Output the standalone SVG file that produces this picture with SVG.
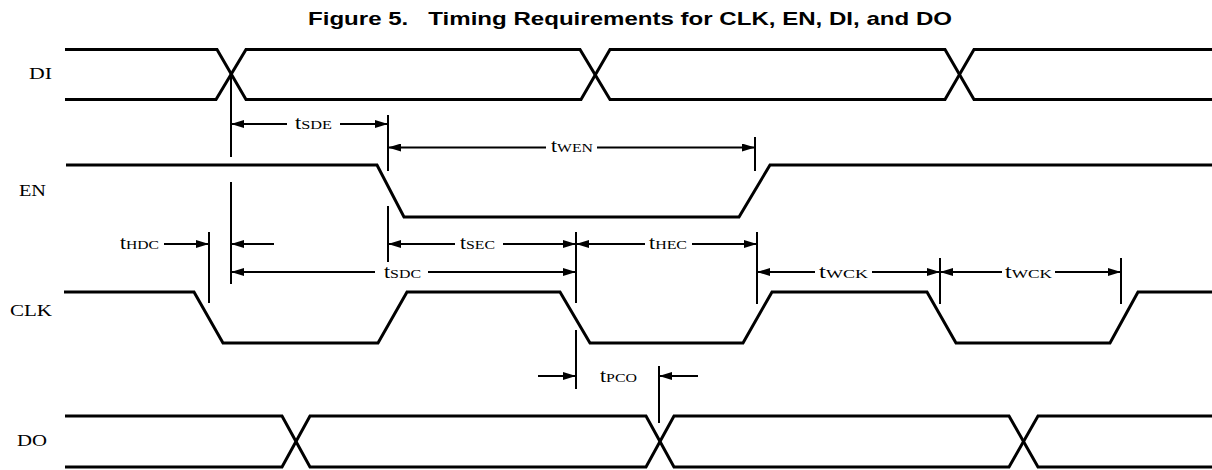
<svg xmlns="http://www.w3.org/2000/svg" width="1212" height="470" viewBox="0 0 1212 470">
<style>
.sig{fill:none;stroke:#000;stroke-width:3;stroke-linejoin:miter}
.dim{fill:none;stroke:#000;stroke-width:1.8}
.ref{fill:none;stroke:#000;stroke-width:2}
.lbl{font-family:"Liberation Serif","Times New Roman",serif;font-size:17.5px;fill:#000}
.t{font-family:"Liberation Serif","Times New Roman",serif;font-size:18px;fill:#000}
.sub{font-size:13px}
.title{font-family:"Liberation Sans",Arial,sans-serif;font-weight:bold;font-size:18.5px;fill:#000}
</style>
<defs>
<marker id="arr" viewBox="0 0 13 8" refX="13" refY="4" markerWidth="13" markerHeight="8" markerUnits="userSpaceOnUse" orient="auto">
<path d="M0,0 L13,4 L0,8 z" fill="#000"/>
</marker>
</defs>
<rect width="1212" height="470" fill="#fff"/>
<text class="title" x="308" y="25" textLength="644" lengthAdjust="spacingAndGlyphs" xml:space="preserve">Figure 5.   Timing Requirements for CLK, EN, DI, and DO</text>

<g id="DI">
<text class="lbl" x="29" y="79.3" textLength="23" lengthAdjust="spacingAndGlyphs">DI</text>
<path class="sig" d="M65,49.5 H217 L246,99.5 H581 L610,49.5 H945 L974,99.5 H1212"/>
<path class="sig" d="M65,99.5 H216 L246,49.5 H580 L610,99.5 H945 L974,49.5 H1212"/>
</g>

<g id="EN">
<text class="lbl" x="19" y="195.7" textLength="27" lengthAdjust="spacingAndGlyphs">EN</text>
<path class="sig" d="M66,165 H377 L404,217 H739 L770,165 H1212"/>
</g>

<g id="CLK">
<text class="lbl" x="10" y="315.7" textLength="42" lengthAdjust="spacingAndGlyphs">CLK</text>
<path class="sig" d="M64,292 H194 L223,343 H378 L407,292 H560 L590,343 H743 L772,292 H927 L956,343 H1110 L1138,292 H1212"/>
</g>

<g id="DO">
<text class="lbl" x="17" y="446" textLength="30" lengthAdjust="spacingAndGlyphs">DO</text>
<path class="sig" d="M65,416 H282 L310,467 H646 L674,416 H1009 L1038,467 H1212"/>
<path class="sig" d="M65,467 H282 L310,416 H646 L674,467 H1009 L1038,416 H1212"/>
</g>

<g id="connectors">
<g id="refs">
<line class="ref" x1="231" y1="74" x2="231" y2="157"/>
<line class="ref" x1="231" y1="182" x2="231" y2="284"/>
<line class="ref" x1="388" y1="115" x2="388" y2="171"/>
<line class="ref" x1="388" y1="206" x2="388" y2="262"/>
<line class="ref" x1="755" y1="137" x2="755" y2="171"/>
<line class="ref" x1="209" y1="232" x2="209" y2="303"/>
<line class="ref" x1="576" y1="232" x2="576" y2="303"/>
<line class="ref" x1="576" y1="330" x2="576" y2="389"/>
<line class="ref" x1="757" y1="232" x2="757" y2="304"/>
<line class="ref" x1="940" y1="258" x2="940" y2="304"/>
<line class="ref" x1="1121" y1="258" x2="1121" y2="304"/>
<line class="ref" x1="659" y1="366" x2="659" y2="423"/>
</g>
<g id="tSDE">
<line class="dim" x1="287" y1="124" x2="231" y2="124" marker-end="url(#arr)"/>
<line class="dim" x1="340" y1="124" x2="388" y2="124" marker-end="url(#arr)"/>
<text class="t" x="295" y="128.5" textLength="37" lengthAdjust="spacingAndGlyphs">t<tspan class="sub">SDE</tspan></text>
</g>
<g id="tWEN">
<line class="dim" x1="546" y1="147.5" x2="388" y2="147.5" marker-end="url(#arr)"/>
<line class="dim" x1="597" y1="147.5" x2="755" y2="147.5" marker-end="url(#arr)"/>
<text class="t" x="551" y="152" textLength="42" lengthAdjust="spacingAndGlyphs">t<tspan class="sub">WEN</tspan></text>
</g>
<g id="tHDC">
<line class="dim" x1="164" y1="244" x2="209" y2="244" marker-end="url(#arr)"/>
<line class="dim" x1="274" y1="244" x2="231" y2="244" marker-end="url(#arr)"/>
<text class="t" x="120" y="249" textLength="39" lengthAdjust="spacingAndGlyphs">t<tspan class="sub">HDC</tspan></text>
</g>
<g id="tSEC">
<line class="dim" x1="455" y1="244" x2="388" y2="244" marker-end="url(#arr)"/>
<line class="dim" x1="503" y1="244" x2="576" y2="244" marker-end="url(#arr)"/>
<text class="t" x="460" y="249" textLength="35" lengthAdjust="spacingAndGlyphs">t<tspan class="sub">SEC</tspan></text>
</g>
<g id="tHEC">
<line class="dim" x1="645" y1="244" x2="576" y2="244" marker-end="url(#arr)"/>
<line class="dim" x1="692" y1="244" x2="757" y2="244" marker-end="url(#arr)"/>
<text class="t" x="649" y="249" textLength="38" lengthAdjust="spacingAndGlyphs">t<tspan class="sub">HEC</tspan></text>
</g>
<g id="tSDC">
<line class="dim" x1="375" y1="272" x2="231" y2="272" marker-end="url(#arr)"/>
<line class="dim" x1="428" y1="272" x2="576" y2="272" marker-end="url(#arr)"/>
<text class="t" x="384" y="277.5" textLength="37" lengthAdjust="spacingAndGlyphs">t<tspan class="sub">SDC</tspan></text>
</g>
<g id="tWCK1">
<line class="dim" x1="815" y1="272" x2="757" y2="272" marker-end="url(#arr)"/>
<line class="dim" x1="872" y1="272" x2="940" y2="272" marker-end="url(#arr)"/>
<text class="t" x="819" y="277.5" textLength="49" lengthAdjust="spacingAndGlyphs">t<tspan class="sub">WCK</tspan></text>
</g>
<g id="tWCK2">
<line class="dim" x1="1002" y1="272" x2="940" y2="272" marker-end="url(#arr)"/>
<line class="dim" x1="1055" y1="272" x2="1121" y2="272" marker-end="url(#arr)"/>
<text class="t" x="1005" y="277.5" textLength="47" lengthAdjust="spacingAndGlyphs">t<tspan class="sub">WCK</tspan></text>
</g>
<g id="tPCO">
<line class="dim" x1="538" y1="376" x2="576" y2="376" marker-end="url(#arr)"/>
<line class="dim" x1="698" y1="376" x2="659" y2="376" marker-end="url(#arr)"/>
<text class="t" x="600" y="382" textLength="37" lengthAdjust="spacingAndGlyphs">t<tspan class="sub">PCO</tspan></text>
</g>
</g>
</svg>
